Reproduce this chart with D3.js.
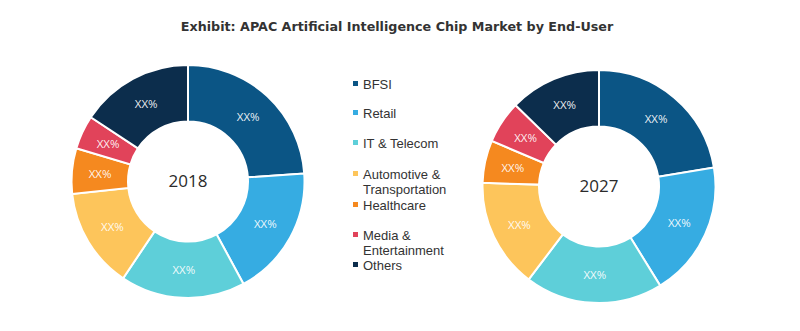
<!DOCTYPE html>
<html>
<head>
<meta charset="utf-8">
<script src="https://cdn.jsdelivr.net/npm/d3@7"></script>
<style>
  html, body { margin: 0; padding: 0; background: #ffffff; }
  svg { display: block; }
</style>
</head>
<body>
<svg id="chart" width="800" height="331"></svg>
<script>
const categories = ["BFSI", "Retail", "IT & Telecom", "Automotive & Transportation", "Healthcare", "Media & Entertainment", "Others"];
const legendLines = [["BFSI"], ["Retail"], ["IT & Telecom"], ["Automotive &", "Transportation"], ["Healthcare"], ["Media &", "Entertainment"], ["Others"]];
const colors = ["#0b5585", "#36ace2", "#5ecfd9", "#fdc55b", "#f5891f", "#e1435a", "#0c2d4c"];
const years = ["2018", "2027"];
const values2018 = [23.9, 18.2, 17.3, 13.9, 6.3, 4.7, 15.7];
const values2027 = [22.4, 18.8, 19.1, 15.2, 5.9, 5.9, 12.7];
const sliceLabel = "XX%";
const title = "Exhibit: APAC Artificial Intelligence Chip Market by End-User";

const svg = d3.select("#chart");

// Title
const t = svg.append("text")
  .attr("x", 397).attr("y", 31)
  .attr("text-anchor", "middle")
  .attr("font-family", "DejaVu Sans, Verdana, sans-serif")
  .attr("font-weight", "bold")
  .attr("font-size", 12.5)
  .attr("fill", "#333333")
  .text(title);
const tw = t.node().getComputedTextLength();
t.attr("font-size", 12.5 * 433 / tw);

const pie = d3.pie().sort(null).value(d => d);
const outerR = 116.5, innerR = 60;
const arc = d3.arc().innerRadius(innerR).outerRadius(outerR);

function donut(cx, cy, values, year) {
  const g = svg.append("g").attr("transform", `translate(${cx},${cy})`);
  const arcs = pie(values);
  g.selectAll("path").data(arcs).join("path")
    .attr("d", arc)
    .attr("fill", (d, i) => colors[i])
    .attr("stroke", "#ffffff")
    .attr("stroke-width", 2);
  g.selectAll("text.lbl").data(arcs).join("text")
    .attr("class", "lbl")
    .attr("transform", d => `translate(${arc.centroid(d)})`)
    .attr("text-anchor", "middle")
    .attr("dy", "0.35em")
    .attr("font-family", "Open Sans, sans-serif")
    .attr("font-size", 11.5)
    .attr("fill", "#ffffff")
    .attr("fill-opacity", 0.92)
    .text(sliceLabel);
  g.append("text")
    .attr("text-anchor", "middle")
    .attr("dy", "0.35em")
    .attr("font-family", "Open Sans, sans-serif")
    .attr("font-size", 17)
    .attr("fill", "#2b2b2b")
    .text(year);
}

donut(188, 181.5, values2018, years[0]);
donut(599, 186.5, values2027, years[1]);

// Legend
const legendY = [84, 113, 143, 174, 205, 235, 265];
const lg = svg.append("g");
legendLines.forEach((lines, i) => {
  const y = legendY[i];
  lg.append("rect")
    .attr("x", 353).attr("y", y - 3)
    .attr("width", 5).attr("height", 5)
    .attr("fill", colors[i]);
  const tx = lg.append("text")
    .attr("x", 363).attr("y", y)
    .attr("dy", "0.35em")
    .attr("font-family", "Liberation Sans, Arial, sans-serif")
    .attr("font-size", 13)
    .attr("fill", "#333333");
  lines.forEach((ln, j) => {
    tx.append("tspan").attr("x", 363).attr("dy", j === 0 ? "0.35em" : 15.5).text(ln);
  });
});
</script>
</body>
</html>
